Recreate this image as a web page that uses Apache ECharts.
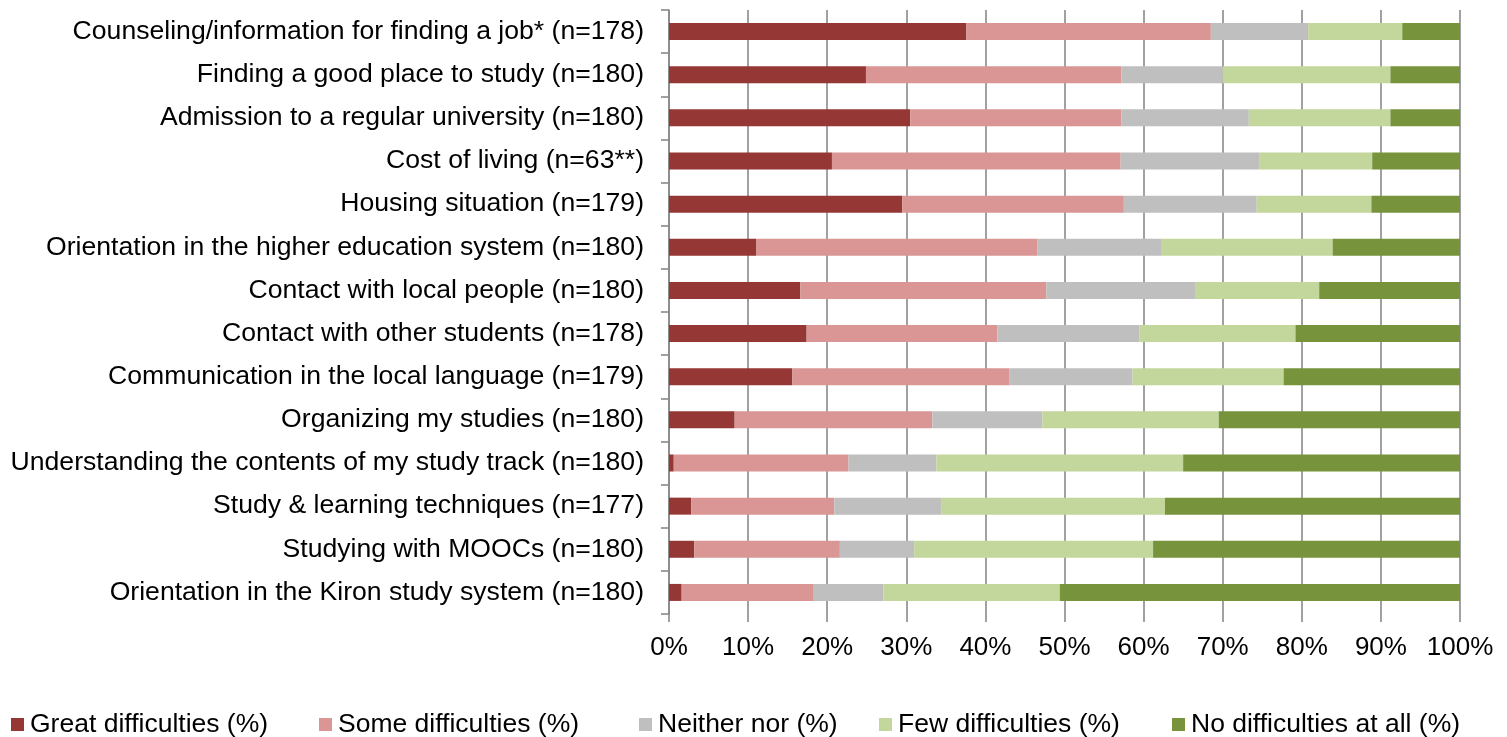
<!DOCTYPE html>
<html>
<head>
<meta charset="utf-8">
<script src="https://cdn.jsdelivr.net/npm/echarts@6/dist/echarts.min.js"></script>
<style>
html,body{margin:0;padding:0;background:#fff;}
#chart{width:1507px;height:737px;}
</style>
</head>
<body>
<div id="chart"></div>
<script>
const categories = [
  "Counseling/information for finding a job* (n=178)",
  "Finding a good place to study (n=180)",
  "Admission to a regular university (n=180)",
  "Cost of living (n=63**)",
  "Housing situation (n=179)",
  "Orientation in the higher education system (n=180)",
  "Contact with local people (n=180)",
  "Contact with other students (n=178)",
  "Communication in the local language (n=179)",
  "Organizing my studies (n=180)",
  "Understanding the contents of my study track (n=180)",
  "Study & learning techniques (n=177)",
  "Studying with MOOCs (n=180)",
  "Orientation in the Kiron study system (n=180)"
];
const seriesNames = ["Great difficulties (%)", "Some difficulties (%)", "Neither nor (%)", "Few difficulties (%)", "No difficulties at all (%)"];
const great   = [37.6, 24.9, 30.5, 20.6, 29.5, 11.0, 16.6, 17.4, 15.6, 8.3, 0.6, 2.8, 3.2, 1.6];
const some    = [30.9, 32.3, 26.7, 36.5, 28.0, 35.6, 31.1, 24.1, 27.4, 25.0, 22.1, 18.1, 18.4, 16.7];
const neither = [12.3, 12.8, 16.1, 17.5, 16.8, 15.6, 18.9, 18.0, 15.6, 13.9, 11.1, 13.5, 9.4, 8.8];
const few     = [11.9, 21.2, 17.9, 14.3, 14.5, 21.7, 15.6, 19.7, 19.1, 22.3, 31.2, 28.3, 30.2, 22.3];
const noDiff  = [7.3, 8.8, 8.8, 11.1, 11.2, 16.1, 17.8, 20.8, 22.3, 30.5, 35.0, 37.3, 38.8, 50.6];
const xTicks = {min: 0, max: 100, interval: 10};

const colors = ["#953735", "#D99694", "#BFBFBF", "#C3D69B", "#77933C"];
const values = [great, some, neither, few, noDiff];
const FONT = "'Liberation Sans', Arial, sans-serif";
const legendLefts = [11, 319, 639, 879, 1172];

const chart = echarts.init(document.getElementById('chart'), null, {renderer: 'canvas'});
chart.setOption({
  animation: false,
  color: colors,
  textStyle: {fontFamily: FONT},
  grid: {left: 669, right: 47, top: 10, bottom: 123, containLabel: false},
  legend: seriesNames.map((n, i) => ({
    data: [n], left: legendLefts[i], top: 711, padding: 0, itemWidth: 13, itemHeight: 13,
    icon: 'rect', selectedMode: false, itemGap: 0,
    textStyle: {fontSize: 26.5, color: '#000', fontFamily: FONT, padding: [0, 0, 0, 1]}
  })),
  xAxis: {
    type: 'value', min: xTicks.min, max: xTicks.max, interval: xTicks.interval,
    axisLine: {show: false},
    axisTick: {show: true, length: 8, lineStyle: {color: '#8a8a8a', width: 1.6}},
    splitLine: {show: true, lineStyle: {color: '#8a8a8a', width: 1.6}},
    axisLabel: {formatter: '{value}%', fontSize: 26, color: '#000', margin: 21, fontFamily: FONT}
  },
  yAxis: {
    type: 'category', data: categories, inverse: true,
    axisLine: {show: true, lineStyle: {color: '#8a8a8a', width: 1.6}},
    axisTick: {show: true, length: 8, lineStyle: {color: '#8a8a8a', width: 1.6}},
    axisLabel: {fontSize: 26.6, color: '#000', margin: 25, fontFamily: FONT}
  },
  series: seriesNames.map((n, i) => ({
    name: n, type: 'bar', stack: 'total', data: values[i],
    barWidth: 17,
    itemStyle: {color: colors[i]}
  }))
});
</script>
</body>
</html>
